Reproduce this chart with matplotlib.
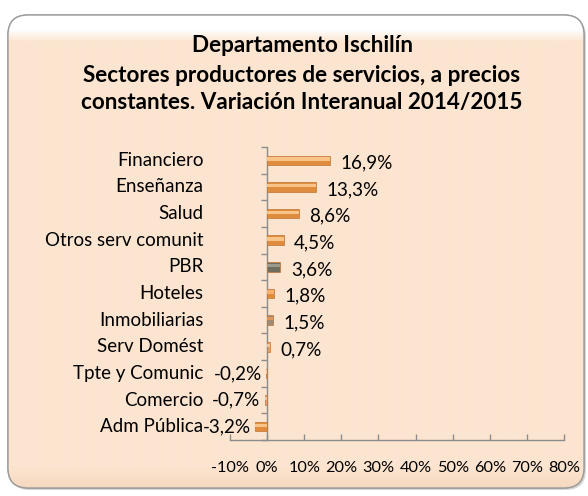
import numpy as np
import matplotlib
matplotlib.use("Agg")
import matplotlib.pyplot as plt
from matplotlib.patches import FancyBboxPatch
from matplotlib.ticker import FuncFormatter, FixedLocator
from matplotlib.colors import to_rgb

# ---------------- data ----------------
title_lines = ["Departamento Ischilín",
               "Sectores productores de servicios, a precios",
               "constantes. Variación Interanual 2014/2015"]
categories = ["Financiero", "Enseñanza", "Salud", "Otros serv comunit", "PBR",
              "Hoteles", "Inmobiliarias", "Serv Domést", "Tpte y Comunic",
              "Comercio", "Adm Pública"]
values = [16.9, 13.3, 8.6, 4.5, 3.6, 1.8, 1.5, 0.7, -0.2, -0.7, -3.2]
bar_colors = ["#E08C3E", "#E08C3E", "#E08C3E", "#E08C3E", "#6F6E60",
              "#E08C3E", "#9A8A7A", "#D9A27A", "#D9A27A", "#D9A27A", "#E08C3E"]
highlight_colors = ["#F8C488", "#F8C488", "#F8C488", "#F8C488", "#9C9B8B",
                    "#F3B070", "#E0955A", "#EBC3A3", "#EBC3A3", "#EBC3A3", "#F8C488"]
x_ticks = [-10, 0, 10, 20, 30, 40, 50, 60, 70, 80]

FONT = "Lato"
W, H = 588, 496
fig = plt.figure(figsize=(W / 100, H / 100), dpi=100)
fig.patch.set_facecolor("white")

# ---------------- background panel ----------------
bg = fig.add_axes([0, 0, 1, 1])
bg.set_axis_off()
bg.set_xlim(0, W)
bg.set_ylim(H, 0)
r = 20
x0, y0, x1, y1 = 8, 15, 584, 488
shadow = FancyBboxPatch((x0 + r + 2, y0 + r + 2), (x1 - x0) - 2 * r, (y1 - y0) - 2 * r,
                        boxstyle=f"round,pad={r}", facecolor="#BDBDBD", edgecolor="none",
                        alpha=0.6, zorder=0)
bg.add_patch(shadow)
panel = FancyBboxPatch((x0 + r, y0 + r), (x1 - x0) - 2 * r, (y1 - y0) - 2 * r,
                       boxstyle=f"round,pad={r}", facecolor="#FCE5D0", edgecolor="#9C9C9C",
                       linewidth=1.0, zorder=1)
bg.add_patch(panel)
# vertical gradient (white gloss on top, slightly darker toward bottom)
n = 473
peach = np.array(to_rgb("#FCE5D0"))
white = np.array([1.0, 1.0, 1.0])
dark = np.array(to_rgb("#F5D8BE"))
grad = np.zeros((n, 1, 3))
for i in range(n):
    if i < 14:
        c = white
    elif i < 26:
        s = (i - 14) / 12
        c = white * (1 - s) + peach * s
    elif i > n - 22:
        s = (i - (n - 22)) / 22
        c = peach * (1 - s) + dark * s
    else:
        c = peach
    grad[i, 0] = c
im = bg.imshow(grad, extent=(x0, x1, y1, y0), aspect="auto", zorder=1.5, interpolation="bilinear")
im.set_clip_path(panel)
edge = FancyBboxPatch((x0 + r, y0 + r), (x1 - x0) - 2 * r, (y1 - y0) - 2 * r,
                      boxstyle=f"round,pad={r}", facecolor="none", edgecolor="#9C9C9C",
                      linewidth=1.0, zorder=2)
bg.add_patch(edge)

# ---------------- title ----------------
title_y = [45, 76, 102]
for line, ty in zip(title_lines, title_y):
    bg.text(302, ty, line, ha="center", va="center", fontsize=16.2, fontweight="bold",
            family=FONT, color="black", zorder=3)

# ---------------- chart ----------------
L, R, T, B = 230, 564, 147, 440
ax = fig.add_axes([L / W, 1 - B / H, (R - L) / W, (B - T) / H])
ax.set_facecolor("none")
ypos = np.arange(len(categories))
bar_h = 0.36
ax.barh(ypos, values, height=bar_h, color=bar_colors, edgecolor="#C27434",
        linewidth=0.5, zorder=3)
ax.barh(ypos - 0.05, values, height=bar_h * 0.35, color=highlight_colors,
        linewidth=0, zorder=4)

ax.set_xlim(-10, 80)
ax.set_ylim(len(categories) - 0.5, -0.5)
ax.xaxis.set_major_locator(FixedLocator(x_ticks))
ax.xaxis.set_major_formatter(FuncFormatter(lambda v, p: f"{v:.0f}%"))
ax.set_yticks(np.arange(len(categories) + 1) - 0.5)
ax.set_yticklabels([])

for s in ["top", "right"]:
    ax.spines[s].set_visible(False)
ax.spines["left"].set_position(("data", 0))
ax.spines["left"].set_color("#8C8C8C")
ax.spines["bottom"].set_color("#8C8C8C")
ax.spines["left"].set_linewidth(1.0)
ax.spines["bottom"].set_linewidth(1.0)
ax.tick_params(axis="y", direction="out", length=4.5, color="#8C8C8C", width=1.0)
ax.tick_params(axis="x", direction="in", length=4, color="#8C8C8C", width=1.0,
               pad=15, labelsize=11.7)
for lab in ax.get_xticklabels():
    lab.set_family(FONT)

# category labels
for yi, cat in zip(ypos, categories):
    ax.annotate(cat, xy=(0, yi), xycoords=("axes fraction", "data"),
                xytext=(-19, 0), textcoords="offset points", ha="right", va="center",
                fontsize=13.5, family=FONT, color="black")

# value labels
for yi, v in zip(ypos, values):
    txt = f"{v:.1f}".replace(".", ",") + "%"
    if v >= 0:
        ax.annotate(txt, xy=(v, yi), xytext=(7.5, -2), textcoords="offset points",
                    ha="left", va="center", fontsize=13.6, family=FONT)
    else:
        ax.annotate(txt, xy=(v, yi), xytext=(-3, 0), textcoords="offset points",
                    ha="right", va="center", fontsize=13.6, family=FONT)

fig.savefig("out.png", dpi=100)
